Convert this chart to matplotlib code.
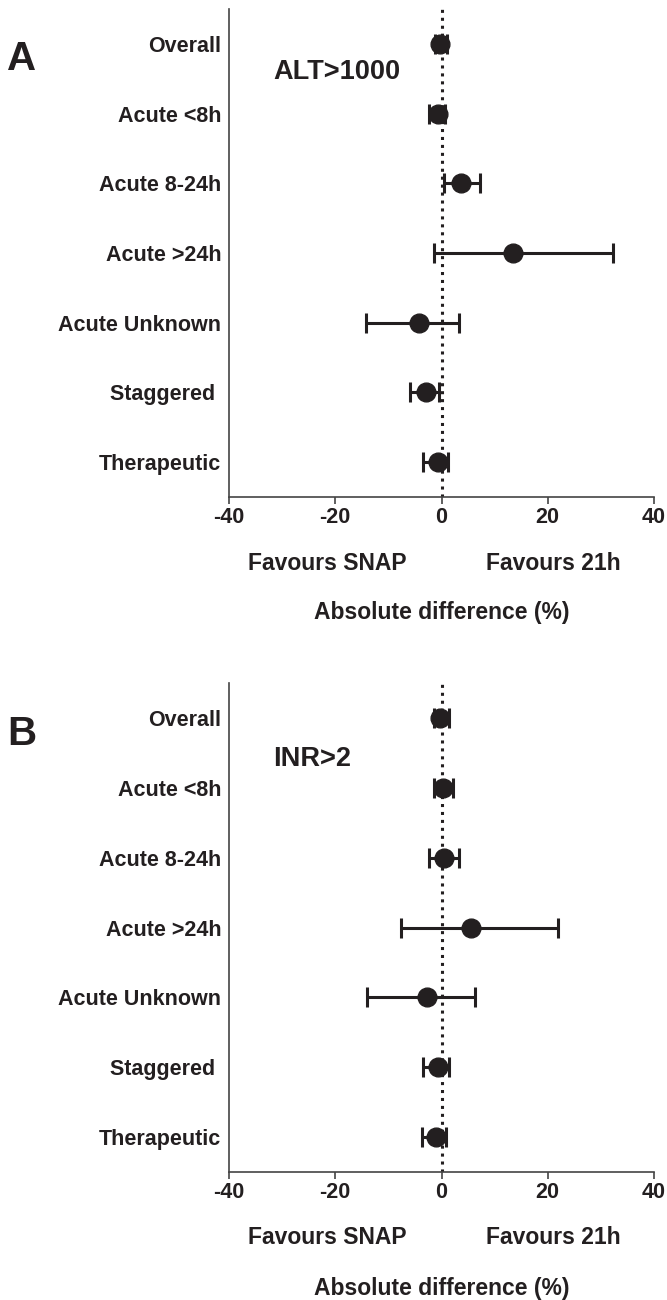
import matplotlib
matplotlib.use("Agg")
import matplotlib.pyplot as plt
import numpy as np

plt.rcParams['font.family'] = ['Liberation Sans', 'DejaVu Sans']
plt.rcParams['font.weight'] = 'bold'

categories = ["Overall", "Acute <8h", "Acute 8-24h", "Acute >24h",
              "Acute Unknown", "Staggered ", "Therapeutic"]

alt_est = [-0.3, -0.75, 3.7, 13.4, -4.3, -2.9, -0.75]
alt_lo = [-1.3, -2.4, 0.5, -1.5, -14.2, -6.0, -3.4]
alt_hi = [1.1, 0.75, 7.3, 32.2, 3.2, -0.5, 1.3]

inr_est = [-0.3, 0.3, 0.4, 5.6, -2.8, -0.75, -1.1]
inr_lo = [-1.4, -1.4, -2.4, -7.7, -14.0, -3.5, -3.7]
inr_hi = [1.4, 2.1, 3.2, 22.0, 6.3, 1.5, 0.9]

xticks = [-40, -20, 0, 20, 40]

ink = '#231f20'
spine_col = '#444444'

fig = plt.figure(figsize=(6.67, 13.0), dpi=100)

panels = [
    dict(rect=[229/667, 1-497/1300, 425/667, 488/1300], est=alt_est, lo=alt_lo, hi=alt_hi,
         letter="A", title="ALT>1000", title_y=0.41, top_px=0),
    dict(rect=[229/667, 1-1172/1300, 425/667, 489/1300], est=inr_est, lo=inr_lo, hi=inr_hi,
         letter="B", title="INR>2", title_y=0.59, top_px=675),
]

for p in panels:
    ax = fig.add_axes(p['rect'])
    y = np.arange(len(categories))
    est = np.array(p['est'])
    lo = np.array(p['lo'])
    hi = np.array(p['hi'])
    ax.axvline(0, color=ink, linestyle=(0, (1, 1.6)), linewidth=2.2, zorder=1)
    ax.errorbar(est, y, xerr=[est - lo, hi - est], fmt='o', color=ink,
                markersize=13.5, elinewidth=2.2, capsize=7.5, capthick=2.2, zorder=3)
    ax.set_xlim(-40, 40)
    ax.set_ylim(len(categories) - 0.5, -0.5)
    ax.set_yticks(y)
    ax.set_yticklabels(categories, fontsize=15.5, fontweight='bold', color=ink)
    ax.tick_params(axis='y', length=0, pad=5.5)
    ax.set_xticks(xticks)
    ax.set_xticklabels([str(t) for t in xticks], fontsize=15.5, fontweight='bold', color=ink)
    ax.tick_params(axis='x', length=5, width=1.2, color=spine_col, direction='out', pad=2.5)
    for s in ['top', 'right']:
        ax.spines[s].set_visible(False)
    for s in ['left', 'bottom']:
        ax.spines[s].set_color(spine_col)
        ax.spines[s].set_linewidth(1.2)
    ax.text(-31.7, p['title_y'], p['title'], fontsize=19.5, fontweight='bold',
            color=ink, ha='left', va='center')
    off = p['top_px']
    fig.text(22/667, 1 - (59 + off)/1300, p['letter'], fontsize=29, fontweight='bold',
             color=ink, ha='center', va='center')
    fig.text(327/667, 1 - (563 + off)/1300, "Favours SNAP", fontsize=16.5, fontweight='bold',
             color=ink, ha='center', va='center')
    fig.text(553/667, 1 - (563 + off)/1300, "Favours 21h", fontsize=16.5, fontweight='bold',
             color=ink, ha='center', va='center')
    fig.text(442/667, 1 - (613 + off)/1300, "Absolute difference (%)", fontsize=16.5,
             fontweight='bold', color=ink, ha='center', va='center')

fig.savefig("out.png", dpi=100)
